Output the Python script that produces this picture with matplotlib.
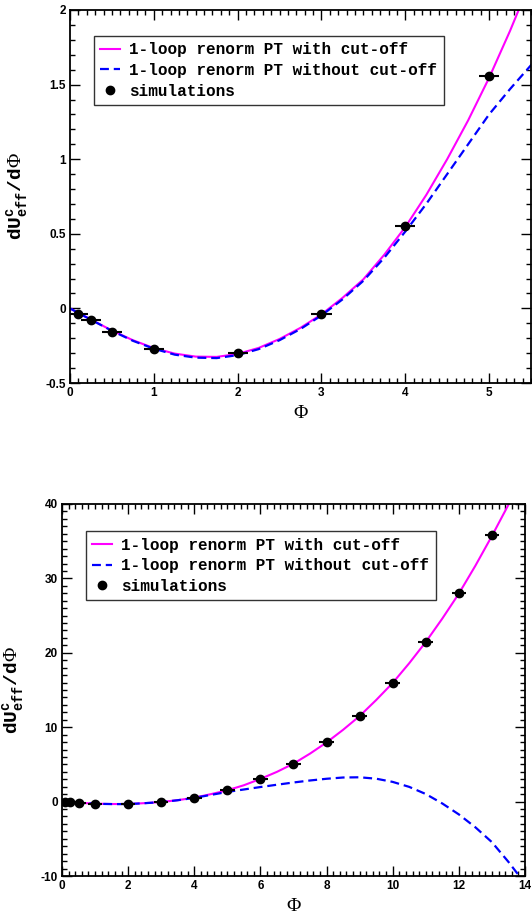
import matplotlib
matplotlib.use('Agg')
import matplotlib.pyplot as plt
from matplotlib.ticker import MultipleLocator, FormatStrFormatter

#%% Data
# simulation points (same runs in both panels)
phi_sim = [0.1, 0.25, 0.5, 1, 2, 3, 4, 5, 6, 7, 8, 9, 10, 11, 12, 13]
dU_sim = [-0.035, -0.08, -0.155, -0.27, -0.30, -0.04, 0.55, 1.555,
          3.1, 5.1, 8.0, 11.5, 16.0, 21.5, 28.0, 35.8]
phi_err_top = 0.12
phi_err_bottom = 0.22

# 1-loop renormalised PT curves
phi_curve = [0, 0.25, 0.5, 0.75, 1, 1.25, 1.5, 1.75, 2, 2.25, 2.5, 2.75,
             3, 3.25, 3.5, 3.75, 4, 4.25, 4.5, 4.75, 5, 5.25, 5.5,
             6, 6.5, 7, 7.5, 8, 8.5, 9, 9.5, 10, 10.5, 11, 11.5,
             12, 12.5, 13, 13.5, 14]
dU_cutoff = [0, -0.075, -0.148, -0.213, -0.266, -0.303, -0.323, -0.325,
             -0.305, -0.265, -0.205, -0.13, -0.04, 0.07, 0.195, 0.36,
             0.545, 0.76, 1.0, 1.26, 1.545, 1.86, 2.2,
             3.05, 4.0, 5.1, 6.45, 7.95, 9.65, 11.5, 13.65, 15.95, 18.6,
             21.45, 24.6, 27.95, 31.7, 35.7, 39.9, 44.5]
dU_nocut = [0, -0.076, -0.15, -0.217, -0.27, -0.31, -0.33, -0.333,
            -0.313, -0.273, -0.213, -0.138, -0.047, 0.06, 0.185, 0.34,
            0.515, 0.70, 0.90, 1.10, 1.30, 1.47, 1.63,
            1.96, 2.27, 2.57, 2.84, 3.07, 3.24, 3.27, 3.08, 2.65, 1.98,
            1.02, -0.25, -1.72, -3.45, -5.45, -8.1, -11.0]

labels = ['1-loop renorm PT with cut-off',
          '1-loop renorm PT without cut-off',
          'simulations']

#%% Fonts
plt.rcParams['axes.unicode_minus'] = False
plt.rcParams['mathtext.fontset'] = 'custom'
plt.rcParams['mathtext.rm'] = 'Liberation Mono:bold'
plt.rcParams['mathtext.bf'] = 'Liberation Mono:bold'
plt.rcParams['mathtext.sf'] = 'Liberation Serif'
mono = {'family': 'Liberation Mono', 'weight': 'bold'}
ylab = r'$\mathrm{dU}^{\mathrm{c}}_{\mathrm{eff}}\mathrm{/d}\mathsf{\Phi}$'

#%% Figure
fig = plt.figure(figsize=(5.32, 9.15), dpi=100)
ax1 = fig.add_axes([0.1316, 0.5814, 0.8665, 0.4077])
ax2 = fig.add_axes([0.1165, 0.0426, 0.8703, 0.4066])


def draw(ax, xerr, xlim, ylim, xmaj, xmin, ymaj, ymin, legx, legy, ylx):
    ax.plot(phi_curve, dU_cutoff, color='#ff00ff', lw=1.5, label=labels[0])
    ax.plot(phi_curve, dU_nocut, color='#0000ff', lw=1.6, dashes=(4, 2.2),
            label=labels[1])
    ax.errorbar(phi_sim, dU_sim, xerr=xerr, fmt='none', ecolor='black',
                elinewidth=1.5, capsize=0)
    ax.plot(phi_sim, dU_sim, 'o', color='black', ms=6, label=labels[2])
    ax.set_xlim(*xlim)
    ax.set_ylim(*ylim)
    ax.xaxis.set_major_locator(MultipleLocator(xmaj))
    ax.xaxis.set_minor_locator(MultipleLocator(xmin))
    ax.yaxis.set_major_locator(MultipleLocator(ymaj))
    ax.yaxis.set_minor_locator(MultipleLocator(ymin))
    ax.xaxis.set_major_formatter(FormatStrFormatter('%g'))
    ax.yaxis.set_major_formatter(FormatStrFormatter('%g'))
    ax.tick_params(which='both', direction='in', top=True, right=True,
                   width=1, labelsize=8.5, pad=3)
    ax.tick_params(which='major', length=7)
    ax.tick_params(which='minor', length=3.5)
    for lab in ax.get_xticklabels() + ax.get_yticklabels():
        lab.set_fontfamily('Liberation Sans')
        lab.set_fontweight('bold')
    for sp in ax.spines.values():
        sp.set_linewidth(1.3)
    ax.set_xlabel('Φ', family='Liberation Serif', fontsize=14, labelpad=4)
    ax.set_ylabel(ylab, fontsize=14)
    ax.yaxis.set_label_coords(ylx, 0.5)
    leg = ax.legend(loc='upper left', bbox_to_anchor=(legx, legy),
                    borderaxespad=0, prop={**mono, 'size': 11.5},
                    fancybox=False, framealpha=1, edgecolor='#333333',
                    handlelength=1.2, handletextpad=0.6, labelspacing=0.35,
                    borderpad=0.4, numpoints=1)
    leg.get_frame().set_linewidth(1.0)


draw(ax1, phi_err_top, (0, 5.5), (-0.5, 2), 1, 0.1, 0.5, 0.1, 0.052, 0.93, -0.085)
draw(ax2, phi_err_bottom, (0, 14), (-10, 40), 2, 0.2, 10, 1, 0.052, 0.927, -0.075)

fig.savefig('out.png', dpi=100)
